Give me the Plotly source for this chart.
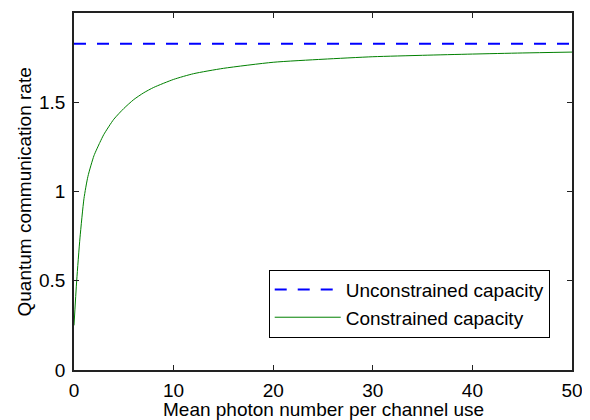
import plotly.graph_objects as go

# Data
photon_number = [0, 0.27, 0.6, 1.0, 1.4, 2, 2.6, 3, 4, 5, 6, 7, 8, 10, 12, 15, 20, 25, 30, 35, 40, 45, 50]
constrained = [0.25, 0.50, 0.74, 0.96, 1.085, 1.20, 1.275, 1.32, 1.405, 1.465, 1.515, 1.553, 1.583,
               1.628, 1.66, 1.69, 1.724, 1.741, 1.755, 1.763, 1.77, 1.776, 1.781]
unconstrained_x = [0, 50]
unconstrained = [1.828, 1.828]

x_ticks = [0, 10, 20, 30, 40, 50]
y_ticks = [0, 0.5, 1, 1.5, 2]
y_tick_labels = ["0", "0.5", "1", "1.5", "2"]

x_title = "Mean photon number per channel use"
y_title = "Quantum communication rate"

font = "Liberation Sans, Arial, Helvetica, sans-serif"
fs = 19

fig = go.Figure()
fig.add_trace(go.Scatter(
    x=unconstrained_x, y=unconstrained, mode="lines",
    name="Unconstrained capacity",
    line=dict(color="rgb(0,0,255)", width=2, dash="12px,11px"),
))
fig.add_trace(go.Scatter(
    x=photon_number, y=constrained, mode="lines",
    name="Constrained capacity",
    line=dict(color="rgb(0,128,0)", width=1, shape="spline", smoothing=0.6),
))

axis_common = dict(
    showline=True, linecolor="#222222", linewidth=1.5, mirror="ticks",
    ticks="inside", ticklen=5, tickcolor="#222222", tickwidth=1,
    showgrid=False, zeroline=False, automargin=False,
    tickfont=dict(family=font, size=fs, color="black"),
)

# The page adds an 8px body margin, so the figure is 8px smaller and shifted.
fig.update_layout(
    width=582, height=412,
    margin=dict(l=66, r=18, t=5, b=50),
    paper_bgcolor="white", plot_bgcolor="white",
    font=dict(family=font, size=fs, color="black"),
    xaxis=dict(range=[0, 50], tickvals=x_ticks, ticklabelstandoff=2, **axis_common),
    yaxis=dict(range=[0, 2], tickvals=y_ticks, ticktext=y_tick_labels, ticklabelstandoff=3, **axis_common),
    legend=dict(x=0.391, y=0.281, xanchor="left", yanchor="top",
                bgcolor="white", bordercolor="black", borderwidth=1,
                font=dict(family=font, size=fs, color="black"),
                itemwidth=66, tracegroupgap=0),
    showlegend=True,
    annotations=[
        dict(text=x_title, xref="paper", yref="paper", x=0.5, y=-0.112,
             xanchor="center", yanchor="middle", showarrow=False,
             font=dict(family=font, size=fs, color="black")),
        dict(text=y_title, xref="paper", yref="paper", x=-0.0984, y=0.5,
             xanchor="center", yanchor="middle", showarrow=False, textangle=-90,
             font=dict(family=font, size=fs, color="black")),
    ],
)

fig.write_html("out.html")
